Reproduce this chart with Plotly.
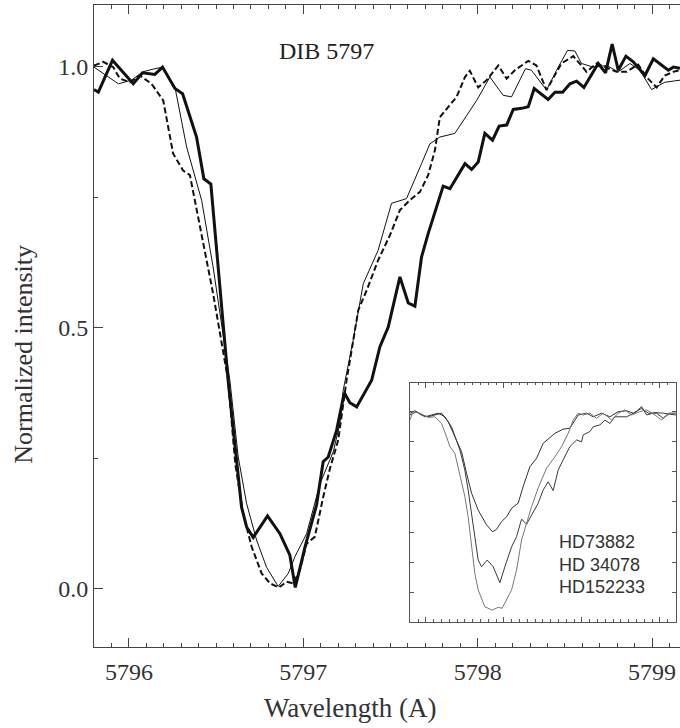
import plotly.graph_objects as go

# ---------------- main panel data ----------------
wl_thick = [5795.800, 5795.825, 5795.906, 5796.025, 5796.078, 5796.149, 5796.193, 5796.264, 5796.308,
            5796.388, 5796.430, 5796.470, 5796.569, 5796.646, 5796.675, 5796.713, 5796.795, 5796.866,
            5796.923, 5796.954, 5797.010, 5797.076, 5797.114, 5797.143, 5797.191, 5797.235, 5797.267,
            5797.306, 5797.392, 5797.439, 5797.487, 5797.554, 5797.602, 5797.640, 5797.678, 5797.716,
            5797.802, 5797.841, 5797.927, 5797.965, 5798.003, 5798.041, 5798.085, 5798.123, 5798.166,
            5798.204, 5798.252, 5798.290, 5798.324, 5798.404, 5798.443, 5798.487, 5798.529, 5798.567,
            5798.609, 5798.691, 5798.733, 5798.771, 5798.806, 5798.850, 5798.892, 5798.959, 5799.007,
            5799.093, 5799.122, 5799.160]
int_thick = [0.956, 0.951, 1.012, 0.967, 0.988, 0.985, 0.999, 0.958, 0.948,
             0.865, 0.785, 0.775, 0.399, 0.156, 0.118, 0.098, 0.139, 0.105,
             0.064, 0.002, 0.080, 0.160, 0.243, 0.252, 0.303, 0.375, 0.356,
             0.348, 0.399, 0.463, 0.501, 0.597, 0.547, 0.541, 0.635, 0.680,
             0.771, 0.766, 0.814, 0.803, 0.817, 0.872, 0.859, 0.886, 0.888,
             0.918, 0.920, 0.923, 0.958, 0.937, 0.951, 0.951, 0.967, 0.972,
             0.960, 1.006, 0.988, 1.043, 0.993, 1.020, 1.009, 0.983, 1.015,
             0.993, 0.999, 0.997]

wl_thin = [5795.800, 5795.870, 5795.940, 5796.015, 5796.080, 5796.149, 5796.197, 5796.264, 5796.331,
           5796.417, 5796.483, 5796.579, 5796.627, 5796.675, 5796.732, 5796.789, 5796.856, 5796.914,
           5796.952, 5797.019, 5797.096, 5797.172, 5797.210, 5797.229, 5797.286, 5797.344, 5797.429,
           5797.506, 5797.592, 5797.678, 5797.726, 5797.783, 5797.869, 5797.994, 5798.070, 5798.146,
           5798.194, 5798.274, 5798.308, 5798.395, 5798.452, 5798.515, 5798.557, 5798.595, 5798.662,
           5798.739, 5798.806, 5798.873, 5798.930, 5798.997, 5799.073, 5799.160]
int_thin = [0.999, 0.983, 0.967, 0.974, 0.990, 0.996, 0.999, 0.961, 0.846,
            0.744, 0.616, 0.399, 0.252, 0.163, 0.093, 0.041, 0.004, 0.029,
            0.061, 0.105, 0.201, 0.262, 0.316, 0.380, 0.476, 0.584, 0.648,
            0.738, 0.747, 0.814, 0.852, 0.865, 0.872, 0.935, 0.980, 0.945,
            0.942, 0.996, 0.993, 0.955, 0.993, 1.031, 1.030, 1.006, 0.999,
            1.002, 0.990, 1.006, 0.993, 0.956, 0.970, 0.974]

wl_dash = [5795.800, 5795.853, 5795.910, 5795.948, 5796.006, 5796.063, 5796.130, 5796.197, 5796.254,
           5796.311, 5796.350, 5796.417, 5796.483, 5796.569, 5796.610, 5796.655, 5796.704, 5796.761,
           5796.809, 5796.860, 5796.904, 5796.942, 5796.980, 5797.019, 5797.066, 5797.114, 5797.153,
           5797.200, 5797.248, 5797.277, 5797.315, 5797.363, 5797.429, 5797.497, 5797.554, 5797.611,
           5797.669, 5797.716, 5797.755, 5797.783, 5797.831, 5797.879, 5797.927, 5797.955, 5798.003,
           5798.051, 5798.118, 5798.166, 5798.213, 5798.290, 5798.337, 5798.395, 5798.480, 5798.548,
           5798.595, 5798.624, 5798.681, 5798.796, 5798.854, 5798.920, 5798.968, 5799.026, 5799.073,
           5799.122, 5799.160]
int_dash = [1.002, 1.009, 0.999, 0.977, 0.970, 0.983, 0.967, 0.935, 0.833,
            0.801, 0.792, 0.680, 0.565, 0.399, 0.239, 0.144, 0.080, 0.029,
            0.010, 0.002, 0.013, 0.010, 0.035, 0.086, 0.099, 0.175, 0.230,
            0.284, 0.399, 0.456, 0.533, 0.571, 0.629, 0.677, 0.725, 0.744,
            0.760, 0.792, 0.840, 0.903, 0.923, 0.942, 0.980, 0.992, 0.960,
            0.974, 1.002, 0.977, 0.993, 1.011, 1.002, 0.955, 1.006, 1.020,
            1.002, 0.990, 1.006, 0.990, 0.990, 1.004, 0.980, 0.960, 0.983,
            0.990, 0.993]

# ---------------- inset data ----------------
inset_names = ["HD73882", "HD 34078", "HD152233"]

wl_hd73882 = [5795.795, 5795.859, 5795.945, 5796.029, 5796.201, 5796.286, 5796.372, 5796.458, 5796.522,
              5796.586, 5796.671, 5796.778, 5796.855, 5796.906, 5796.971, 5797.035, 5797.099, 5797.183,
              5797.247, 5797.333, 5797.419, 5797.462, 5797.504, 5797.654, 5797.760, 5797.846, 5797.888,
              5797.953, 5798.060, 5798.145, 5798.253, 5798.359, 5798.465, 5798.573, 5798.658, 5798.765,
              5798.850, 5798.958, 5799.042, 5799.128, 5799.205]
int_hd73882 = [0.995, 1.003, 0.989, 0.983, 0.995, 0.967, 0.917, 0.867, 0.795,
               0.729, 0.673, 0.624, 0.601, 0.609, 0.635, 0.651, 0.679, 0.696,
               0.751, 0.817, 0.845, 0.873, 0.895, 0.928, 0.942, 0.945, 0.961,
               0.989, 0.995, 0.983, 0.995, 0.983, 1.000, 1.003, 0.995, 1.011,
               0.995, 0.995, 0.978, 0.995, 0.995]

wl_hd34078 = [5795.795, 5795.881, 5795.987, 5796.158, 5796.244, 5796.329, 5796.436, 5796.500, 5796.542,
              5796.586, 5796.628, 5796.671, 5796.714, 5796.786, 5796.863, 5796.949, 5797.013, 5797.099,
              5797.163, 5797.227, 5797.291, 5797.355, 5797.440, 5797.504, 5797.568, 5797.632, 5797.696,
              5797.760, 5797.846, 5797.932, 5797.996, 5798.017, 5798.103, 5798.145, 5798.231, 5798.295,
              5798.359, 5798.423, 5798.573, 5798.701, 5798.765, 5798.829, 5798.936, 5799.042, 5799.205]
int_hd34078 = [0.989, 1.000, 0.983, 0.995, 0.983, 0.950, 0.873, 0.806, 0.740,
               0.662, 0.574, 0.507, 0.485, 0.507, 0.485, 0.432, 0.485, 0.551,
               0.585, 0.643, 0.626, 0.657, 0.696, 0.740, 0.767, 0.738, 0.806,
               0.840, 0.884, 0.906, 0.900, 0.923, 0.934, 0.950, 0.956, 0.972,
               0.961, 0.983, 0.983, 1.000, 1.017, 0.989, 0.997, 0.995, 0.989]

wl_hd152233 = [5795.795, 5795.837, 5795.923, 5796.029, 5796.115, 5796.201, 5796.265, 5796.308, 5796.372,
               5796.414, 5796.458, 5796.500, 5796.542, 5796.586, 5796.628, 5796.671, 5796.756, 5796.850,
               5796.927, 5796.978, 5797.035, 5797.099, 5797.163, 5797.227, 5797.291, 5797.355, 5797.440,
               5797.547, 5797.654, 5797.740, 5797.824, 5797.888, 5797.953, 5798.017, 5798.103, 5798.188,
               5798.273, 5798.381, 5798.465, 5798.551, 5798.637, 5798.744, 5798.829, 5798.936, 5799.022,
               5799.106, 5799.205]
int_hd152233 = [0.972, 1.000, 0.995, 0.981, 0.983, 0.961, 0.917, 0.884, 0.862,
                0.817, 0.762, 0.718, 0.651, 0.551, 0.463, 0.408, 0.352, 0.341,
                0.350, 0.347, 0.374, 0.408, 0.474, 0.574, 0.629, 0.684, 0.747,
                0.812, 0.850, 0.884, 0.928, 0.972, 0.995, 0.989, 0.995, 0.978,
                0.995, 0.972, 0.995, 1.006, 0.989, 1.000, 1.006, 0.989, 0.972,
                0.995, 0.992]

SERIF = "Liberation Serif"
SANS = "Liberation Sans"
AX = "#444444"

fig = go.Figure()

fig.add_trace(go.Scatter(x=wl_thin, y=int_thin, mode="lines",
                         line=dict(color="#111111", width=1)))
fig.add_trace(go.Scatter(x=wl_dash, y=int_dash, mode="lines",
                         line=dict(color="#111111", width=2, dash="6px,3px")))
fig.add_trace(go.Scatter(x=wl_thick, y=int_thick, mode="lines",
                         line=dict(color="#111111", width=3)))

inset_series = [(wl_hd73882, int_hd73882, "#333333"),
                (wl_hd34078, int_hd34078, "#3a3a3a"),
                (wl_hd152233, int_hd152233, "#777777")]
for (wx, wy, col), nm in zip(inset_series, inset_names):
    fig.add_trace(go.Scatter(x=wx, y=wy, mode="lines", name=nm, xaxis="x2", yaxis="y2",
                             line=dict(color=col, width=1)))

fig.update_layout(
    width=680, height=728,
    margin=dict(l=94, r=0, t=5, b=81),
    paper_bgcolor="white", plot_bgcolor="white",
    showlegend=False,
    xaxis=dict(range=[5795.80, 5799.16], domain=[0, 1],
               showline=True, linecolor=AX, linewidth=1, mirror="allticks",
               ticks="inside", ticklen=9, tickwidth=1, tickcolor=AX,
               tick0=5796, dtick=1, showgrid=False, zeroline=False,
               tickfont=dict(family=SERIF, size=24, color="#333333"),
               ticklabelstandoff=3,
               minor=dict(ticks="inside", ticklen=4, tickwidth=1, tickcolor=AX,
                          tick0=5796, dtick=0.1, showgrid=False)),
    yaxis=dict(range=[-0.112, 1.118], domain=[0, 1],
               showline=True, linecolor=AX, linewidth=1, mirror=False,
               ticks="inside", ticklen=9, tickwidth=1, tickcolor=AX,
               tick0=0, dtick=0.5, tickformat=".1f", showgrid=False, zeroline=False,
               tickfont=dict(family=SERIF, size=24, color="#333333"),
               ticklabelstandoff=0,
               minor=dict(ticks="inside", ticklen=4, tickwidth=1, tickcolor=AX,
                          tick0=0, dtick=0.25, showgrid=False)),
    xaxis2=dict(domain=[0.539, 0.993], anchor="y2", range=[5795.795, 5799.205],
                showline=True, linecolor="#555555", linewidth=1, mirror="allticks",
                ticks="inside", ticklen=5, tickwidth=1, tickcolor="#555555",
                tick0=5797, dtick=1, showticklabels=False, showgrid=False, zeroline=False,
                minor=dict(ticks="inside", ticklen=2.5, tickwidth=1, tickcolor="#555555",
                           tick0=5797, dtick=0.1, showgrid=False)),
    yaxis2=dict(domain=[0.0394, 0.4117], anchor="x2", range=[0.3023, 1.0963],
                showline=True, linecolor="#555555", linewidth=1, mirror="allticks",
                ticks="inside", ticklen=4, tickwidth=1, tickcolor="#555555",
                tick0=1.0, dtick=0.1, showticklabels=False, showgrid=False, zeroline=False),
)

annotations = [
    dict(text="DIB 5797", x=5797.132, y=1.029, xref="x", yref="y", showarrow=False,
         xanchor="center", yanchor="middle",
         font=dict(family=SERIF, size=24, color="#222222")),
    dict(text="Wavelength (A)", x=0.438, y=-0.095, xref="paper", yref="paper", showarrow=False,
         xanchor="center", yanchor="middle",
         font=dict(family=SERIF, size=27, color="#333333")),
    dict(text="Normalized intensity", x=-0.1203, y=0.456, xref="paper", yref="paper",
         showarrow=False, textangle=-90, xanchor="center", yanchor="middle",
         font=dict(family=SERIF, size=26, color="#333333")),
]
for nm, yy in zip(inset_names, [0.568, 0.491, 0.416]):
    annotations.append(dict(text=nm, x=5797.676, y=yy, xref="x2", yref="y2", showarrow=False,
                            xanchor="left", yanchor="middle",
                            font=dict(family=SANS, size=18, color="#333333")))
fig.update_layout(annotations=annotations)

fig.write_html("out.html")
